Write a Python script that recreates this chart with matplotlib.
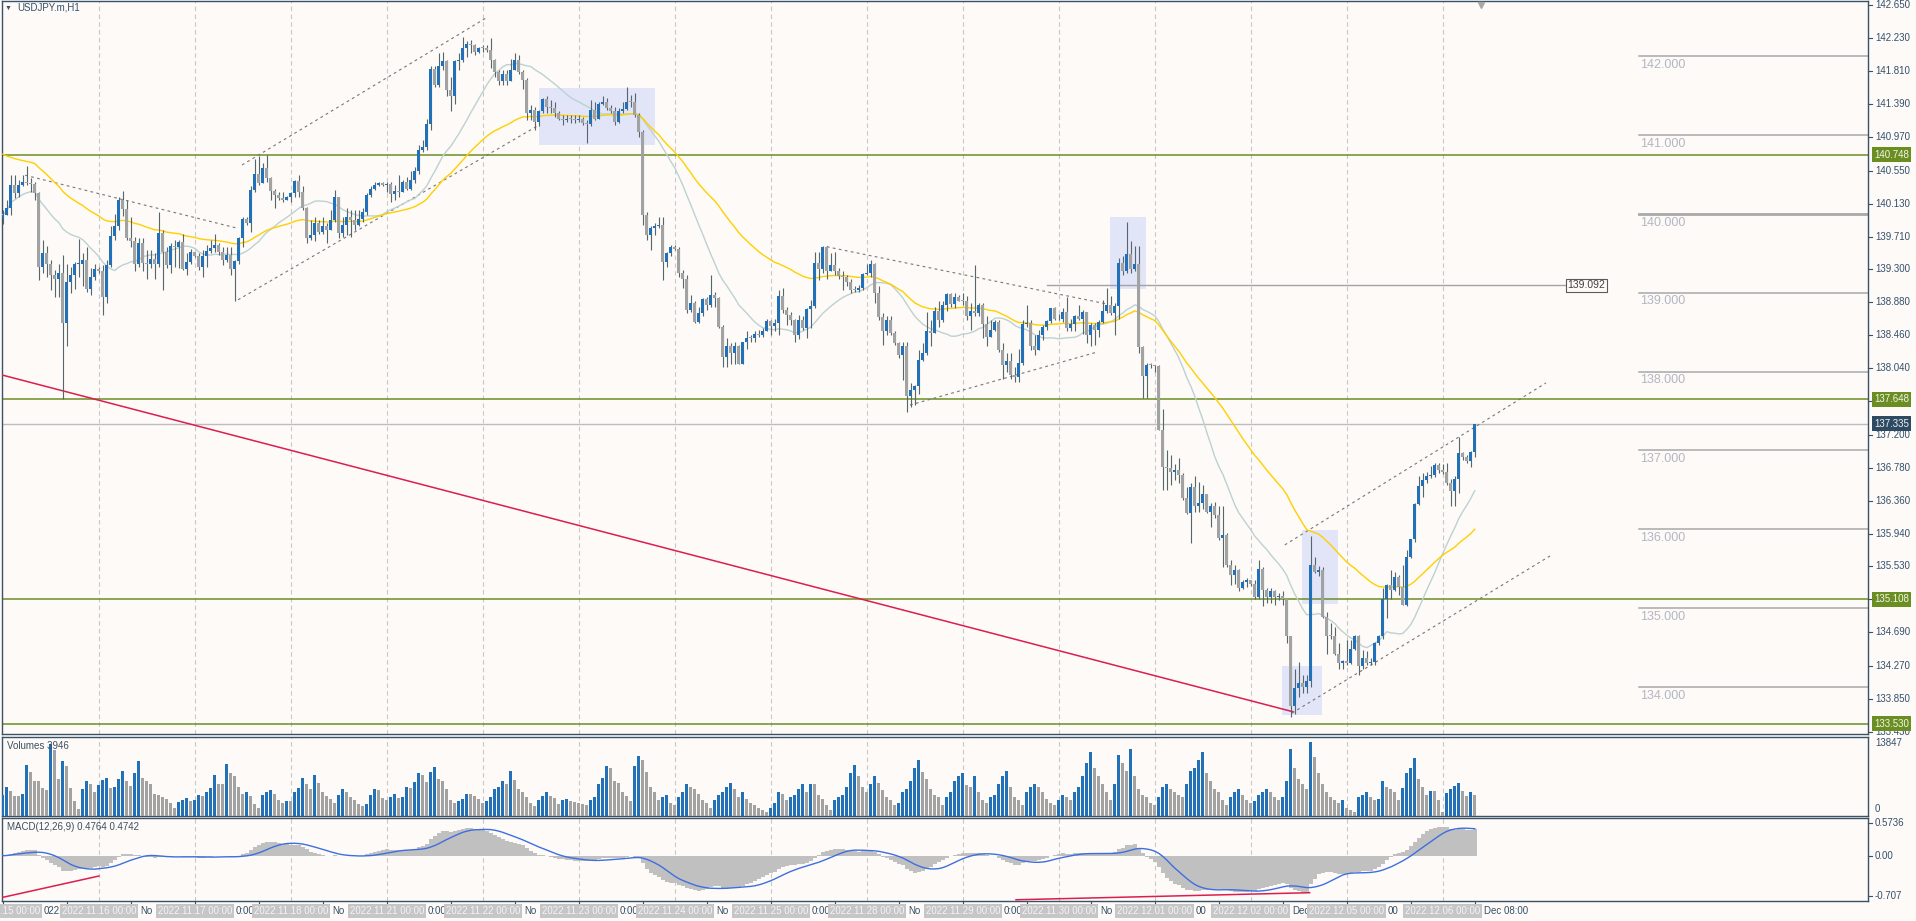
import numpy as np
import pandas as pd
import matplotlib
matplotlib.use("Agg")
import matplotlib.pyplot as plt
from matplotlib.patches import Rectangle
from matplotlib.transforms import blended_transform_factory

plt.rcParams['font.family'] = ['Liberation Sans', 'DejaVu Sans']

# USDJPY.m H1, 2022.11.15 00:00 .. 2022.12.06 08:00 (24 bars a day)
days = ["2022.11.15", "2022.11.16", "2022.11.17", "2022.11.18", "2022.11.21",
        "2022.11.22", "2022.11.23", "2022.11.24", "2022.11.25", "2022.11.28",
        "2022.11.29", "2022.11.30", "2022.12.01", "2022.12.02", "2022.12.05",
        "2022.12.06"]
# bits of the time scale that show between the grey date labels
scale_bits = ["022", "No", "0:00", "No", "0:00", "No", "0:00", "No", "0:00", "No",
              "0:00", "No", "00", "Dec", "00", "Dec 08:00"]

first_open = 139.95
close = [
    139.99, 140.08, 140.37, 140.27, 140.37, 140.40, 140.39, 140.38, 140.26, 139.33, 139.50, 139.36,
    139.22, 139.17, 139.25, 138.61, 139.13, 139.22, 139.36, 139.37, 139.41, 139.05, 139.20, 139.30,
    139.28, 138.95, 139.35, 139.72, 139.85, 140.18, 140.06, 139.70, 139.66, 139.36, 139.63, 139.38,
    139.36, 139.43, 139.36, 139.76, 139.52, 139.35, 139.59, 139.58, 139.64, 139.30, 139.39, 139.52,
    139.47, 139.32, 139.47, 139.53, 139.57, 139.60, 139.52, 139.41, 139.48, 139.30, 139.40, 139.69,
    139.93, 139.88, 140.30, 140.51, 140.39, 140.58, 140.45, 140.29, 140.24, 140.20, 140.18, 140.21,
    140.27, 140.42, 140.28, 140.07, 139.70, 139.73, 139.88, 139.77, 139.85, 139.79, 139.92, 140.21,
    139.76, 139.86, 139.96, 139.92, 139.86, 139.93, 140.03, 140.24, 140.32, 140.37, 140.39, 140.37,
    140.38, 140.25, 140.29, 140.28, 140.40, 140.32, 140.43, 140.54, 140.81, 140.85, 141.14, 141.84,
    141.64, 141.87, 141.94, 141.57, 141.49, 141.94, 141.95, 142.10, 142.16, 142.14, 142.06, 142.10,
    142.10, 142.08, 141.95, 141.80, 141.68, 141.77, 141.68, 141.83, 141.95, 141.80, 141.70, 141.28,
    141.32, 141.17, 141.31, 141.46, 141.35, 141.34, 141.28, 141.21, 141.19, 141.21, 141.20, 141.19,
    141.21, 141.15, 141.14, 141.32, 141.20, 141.40, 141.42, 141.34, 141.30, 141.16, 141.31, 141.33,
    141.42, 141.42, 141.25, 141.04, 139.99, 139.73, 139.82, 139.85, 139.86, 139.39, 139.50, 139.58,
    139.56, 139.25, 139.18, 138.78, 138.87, 138.63, 138.74, 138.92, 138.84, 138.97, 138.93, 138.57,
    138.19, 138.32, 138.23, 138.32, 138.10, 138.37, 138.43, 138.43, 138.48, 138.46, 138.51, 138.64,
    138.58, 138.61, 138.96, 138.78, 138.72, 138.65, 138.46, 138.65, 138.55, 138.79, 138.83, 139.38,
    139.30, 139.58, 139.28, 139.35, 139.28, 139.21, 139.20, 139.14, 139.03, 139.03, 139.06, 139.24,
    139.25, 139.37, 139.00, 138.69, 138.51, 138.65, 138.49, 138.36, 138.21, 138.32, 137.69, 137.77,
    137.81, 138.15, 138.24, 138.51, 138.49, 138.77, 138.65, 138.84, 138.98, 138.86, 138.95, 138.90,
    138.89, 138.70, 138.77, 138.74, 138.85, 138.60, 138.44, 138.53, 138.63, 138.27, 138.08, 138.13,
    137.96, 137.93, 138.11, 138.60, 138.61, 138.32, 138.27, 138.46, 138.57, 138.64, 138.80, 138.67,
    138.66, 138.76, 138.55, 138.60, 138.70, 138.67, 138.76, 138.46, 138.59, 138.53, 138.63, 138.77,
    138.84, 138.74, 138.83, 139.38, 139.28, 139.49, 139.30, 139.37, 138.31, 137.94, 138.08, 138.08,
    138.07, 137.26, 136.79, 136.77, 136.72, 136.75, 136.69, 136.40, 136.20, 136.54, 136.29, 136.33,
    136.44, 136.22, 136.30, 136.18, 135.89, 135.93, 135.55, 135.42, 135.48, 135.25, 135.33, 135.35,
    135.30, 135.14, 135.50, 135.23, 135.14, 135.21, 135.14, 135.15, 135.11, 134.64, 133.76, 133.98,
    134.05, 134.00, 134.07, 135.55, 135.46, 135.48, 134.89, 134.64, 134.64, 134.42, 134.30, 134.33,
    134.30, 134.48, 134.65, 134.26, 134.37, 134.30, 134.32, 134.55, 134.65, 135.12, 135.29, 135.23,
    135.39, 135.27, 135.04, 135.65, 135.88, 136.32, 136.55, 136.62, 136.67, 136.69, 136.82, 136.75,
    136.73, 136.58, 136.49, 136.64, 136.97, 136.91, 136.86, 136.98, 137.335,
]
high = [
    140.05, 140.18, 140.49, 140.49, 140.43, 140.49, 140.61, 140.45, 140.41, 140.28, 139.67, 139.59,
    139.41, 139.29, 139.37, 139.48, 139.37, 139.33, 139.39, 139.68, 139.50, 139.58, 139.31, 139.37,
    139.33, 139.35, 139.41, 139.84, 140.00, 140.22, 140.29, 140.18, 139.96, 139.71, 139.70, 139.69,
    139.54, 139.54, 139.50, 140.03, 139.79, 139.58, 139.63, 139.67, 139.67, 139.75, 139.50, 139.56,
    139.51, 139.50, 139.54, 139.61, 139.67, 139.75, 139.63, 139.58, 139.58, 139.58, 139.41, 139.71,
    139.96, 139.96, 140.35, 140.70, 140.73, 140.64, 140.75, 140.47, 140.32, 140.28, 140.28, 140.23,
    140.28, 140.43, 140.49, 140.35, 140.09, 139.92, 139.96, 139.92, 139.96, 139.88, 140.05, 140.30,
    140.21, 139.96, 140.07, 140.05, 140.05, 140.05, 140.07, 140.26, 140.35, 140.41, 140.41, 140.41,
    140.41, 140.41, 140.37, 140.49, 140.43, 140.47, 140.54, 140.60, 140.87, 140.94, 141.20, 141.87,
    141.87, 142.04, 142.05, 141.95, 141.74, 141.95, 142.04, 142.25, 142.19, 142.21, 142.16, 142.12,
    142.14, 142.14, 142.23, 141.97, 141.83, 141.83, 141.83, 141.97, 142.04, 142.02, 141.83, 141.72,
    141.38, 141.36, 141.32, 141.47, 141.49, 141.45, 141.42, 141.30, 141.25, 141.25, 141.25, 141.25,
    141.25, 141.23, 141.19, 141.45, 141.42, 141.42, 141.50, 141.47, 141.38, 141.36, 141.34, 141.42,
    141.61, 141.51, 141.53, 141.28, 141.06, 140.03, 139.84, 139.88, 139.96, 139.96, 139.52, 139.61,
    139.61, 139.58, 139.29, 139.23, 138.97, 138.89, 138.82, 138.93, 138.95, 139.23, 139.01, 138.95,
    138.59, 138.42, 138.36, 138.38, 138.34, 138.38, 138.51, 138.46, 138.51, 138.53, 138.55, 138.66,
    138.65, 138.67, 139.03, 139.06, 138.82, 138.76, 138.67, 138.72, 138.70, 138.80, 138.91, 139.52,
    139.52, 139.59, 139.59, 139.50, 139.52, 139.31, 139.27, 139.22, 139.18, 139.08, 139.10, 139.25,
    139.37, 139.42, 139.38, 139.08, 138.74, 138.70, 138.70, 138.51, 138.37, 138.38, 138.38, 137.85,
    137.83, 138.27, 138.36, 138.75, 138.65, 138.82, 138.89, 138.89, 139.00, 139.00, 138.99, 138.97,
    138.99, 138.96, 138.87, 139.35, 138.87, 138.87, 138.70, 138.65, 138.65, 138.65, 138.36, 138.23,
    138.23, 138.06, 138.29, 138.65, 138.84, 138.65, 138.46, 138.53, 138.59, 138.65, 138.80, 138.82,
    138.73, 138.80, 138.95, 138.67, 138.72, 138.84, 138.78, 138.63, 138.61, 138.61, 138.65, 138.91,
    139.06, 138.96, 138.87, 139.44, 139.46, 139.90, 139.65, 139.59, 139.59, 138.32, 138.11, 138.11,
    138.08, 138.08, 137.53, 137.00, 136.94, 136.83, 136.90, 136.71, 136.54, 136.58, 136.67, 136.60,
    136.56, 136.45, 136.33, 136.35, 136.29, 136.29, 135.95, 135.61, 135.55, 135.50, 135.35, 135.38,
    135.35, 135.35, 135.61, 135.52, 135.25, 135.25, 135.23, 135.19, 135.21, 135.12, 134.64, 134.23,
    134.32, 134.15, 134.15, 135.91, 135.65, 135.53, 135.52, 134.95, 134.81, 134.76, 134.55, 134.34,
    134.59, 134.60, 134.66, 134.66, 134.47, 134.45, 134.36, 134.57, 134.66, 135.25, 135.31, 135.48,
    135.46, 135.42, 135.55, 135.74, 135.88, 136.33, 136.67, 136.71, 136.73, 136.80, 136.84, 136.84,
    136.83, 136.84, 136.64, 136.67, 137.17, 136.98, 136.94, 136.99, 137.34,
]
low = [
    139.87, 139.99, 139.99, 140.20, 140.22, 140.35, 140.37, 140.28, 140.18, 139.16, 139.25, 139.20,
    139.03, 138.95, 138.95, 137.65, 138.33, 138.99, 139.05, 139.20, 139.08, 139.01, 138.97, 139.16,
    139.25, 138.72, 138.87, 139.33, 139.67, 139.80, 139.97, 139.67, 139.58, 139.27, 139.33, 139.27,
    139.18, 139.31, 139.18, 139.33, 139.03, 139.31, 139.25, 139.33, 139.31, 139.29, 139.22, 139.37,
    139.45, 139.29, 139.20, 139.33, 139.50, 139.52, 139.48, 139.35, 139.39, 139.22, 138.89, 139.37,
    139.58, 139.86, 139.77, 140.28, 140.37, 140.39, 140.41, 140.18, 140.07, 140.18, 140.15, 140.17,
    140.15, 140.22, 140.22, 140.05, 139.63, 139.67, 139.65, 139.75, 139.75, 139.63, 139.79, 139.90,
    139.69, 139.71, 139.73, 139.71, 139.79, 139.84, 139.90, 139.99, 140.22, 140.30, 140.35, 140.35,
    140.28, 140.15, 140.18, 140.22, 140.28, 140.30, 140.30, 140.39, 140.51, 140.79, 140.81, 141.06,
    141.61, 141.61, 141.83, 141.49, 141.30, 141.40, 141.83, 141.93, 141.99, 142.04, 142.02, 142.04,
    142.05, 142.06, 141.85, 141.74, 141.64, 141.64, 141.64, 141.68, 141.83, 141.78, 141.59, 141.19,
    141.19, 141.06, 141.11, 141.28, 141.28, 141.28, 141.23, 141.19, 141.13, 141.17, 141.15, 141.15,
    141.17, 141.13, 140.90, 141.12, 141.19, 141.20, 141.38, 141.32, 141.28, 141.13, 141.15, 141.28,
    141.32, 141.36, 141.23, 140.98, 139.86, 139.67, 139.54, 139.73, 139.82, 139.16, 139.33, 139.46,
    139.54, 139.20, 139.06, 138.74, 138.76, 138.61, 138.61, 138.70, 138.78, 138.82, 138.82, 138.55,
    138.06, 138.06, 138.10, 138.10, 138.10, 138.10, 138.29, 138.38, 138.38, 138.44, 138.44, 138.51,
    138.46, 138.51, 138.46, 138.74, 138.59, 138.59, 138.37, 138.41, 138.53, 138.42, 138.55, 138.80,
    139.16, 139.25, 139.18, 139.27, 139.22, 139.18, 139.03, 139.08, 138.99, 139.01, 139.01, 139.03,
    139.22, 139.20, 138.87, 138.65, 138.34, 138.46, 138.46, 138.34, 138.17, 137.89, 137.49, 137.55,
    137.58, 137.72, 138.13, 138.21, 138.32, 138.49, 138.57, 138.63, 138.77, 138.82, 138.80, 138.89,
    138.84, 138.65, 138.53, 138.70, 138.70, 138.42, 138.32, 138.44, 138.51, 138.25, 137.91, 138.00,
    137.91, 137.87, 137.87, 138.08, 138.57, 138.27, 138.21, 138.27, 138.40, 138.53, 138.61, 138.65,
    138.65, 138.63, 138.51, 138.52, 138.51, 138.65, 138.48, 138.36, 138.32, 138.34, 138.44, 138.61,
    138.74, 138.72, 138.46, 138.67, 139.22, 139.25, 139.25, 139.27, 138.23, 137.66, 137.66, 138.04,
    138.00, 137.26, 136.50, 136.50, 136.56, 136.62, 136.58, 136.37, 136.19, 135.83, 136.22, 136.22,
    136.26, 136.20, 136.03, 136.14, 135.86, 135.52, 135.52, 135.29, 135.31, 135.21, 135.24, 135.27,
    135.28, 135.12, 135.12, 135.02, 135.06, 135.06, 135.04, 135.10, 135.04, 134.55, 133.62, 133.66,
    133.87, 133.92, 133.92, 134.00, 135.44, 135.40, 134.87, 134.42, 134.61, 134.40, 134.23, 134.23,
    134.28, 134.29, 134.47, 134.15, 134.23, 134.28, 134.28, 134.28, 134.53, 134.61, 134.87, 135.12,
    135.21, 135.16, 135.04, 135.02, 135.63, 135.84, 136.31, 136.41, 136.59, 136.65, 136.66, 136.71,
    136.70, 136.56, 136.29, 136.29, 136.46, 136.88, 136.84, 136.79, 136.91,
]
volume = [
    4000, 5500, 4700, 3800, 3800, 4100, 9600, 8200, 6600, 6600, 5300, 4800,
    13500, 12400, 6900, 10200, 9400, 5200, 2800, 1300, 5000, 6500, 6000, 4500,
    5800, 6800, 7200, 5200, 5500, 7000, 8500, 6500, 5600, 8000, 10200, 7100,
    6500, 6000, 4200, 4000, 3500, 3200, 2500, 1500, 2600, 3000, 3300, 2800,
    3000, 4000, 3800, 4500, 5200, 7700, 6000, 6000, 9700, 8000, 7500, 5500,
    4200, 4500, 3700, 2200, 1500, 4000, 4500, 4800, 4200, 3000, 2500, 2800,
    2800, 4500, 5200, 7100, 6000, 5000, 7600, 6200, 4500, 3700, 3200, 2500,
    4000, 5000, 4500, 3500, 3000, 2200, 1800, 2200, 4000, 5000, 4800, 3400,
    3000, 3500, 4200, 3300, 3500, 5500, 5200, 6400, 8000, 7700, 6400, 8200,
    9200, 7000, 6500, 5000, 3000, 2500, 2800, 3100, 4200, 4200, 3800, 3200,
    2500, 2800, 3500, 5000, 5500, 6500, 6000, 8500, 6800, 5000, 4500, 3500,
    2400, 1800, 3000, 3800, 4500, 3700, 3300, 2200, 3000, 3200, 2800, 2600,
    2500, 2200, 2000, 3000, 3500, 6000, 7100, 9400, 8900, 6500, 6200, 4500,
    3800, 2800, 9300, 11300, 10500, 8200, 5500, 4500, 3000, 3500, 4000, 2500,
    2000, 3500, 4500, 6000, 5500, 5000, 4200, 3000, 2500, 1500, 3000, 4000,
    4500, 5500, 6200, 5000, 3500, 4500, 3200, 2500, 2000, 1500, 1200, 700,
    1500, 2500, 4500, 4200, 3000, 3500, 4000, 5000, 6000, 4500, 6000, 6000,
    4000, 3200, 2000, 1200, 3000, 3500, 4000, 5500, 8000, 9500, 7500, 5500,
    4500, 6000, 7500, 6200, 4800, 3500, 3000, 2000, 2500, 4500, 5000, 6500,
    9000, 10500, 8200, 7000, 5000, 4000, 3500, 2000, 3500, 4500, 6500, 7500,
    8000, 5800, 5500, 7500, 4500, 3000, 2500, 3500, 4000, 6000, 7500, 8500,
    5500, 3500, 3000, 2000, 4500, 5500, 6000, 5500, 4500, 3200, 2500, 2000,
    3000, 4000, 3500, 3000, 4500, 5500, 7500, 10000, 12000, 9000, 7500, 6000,
    4500, 3000, 6000, 11500, 10000, 8500, 12500, 7500, 5000, 4000, 3500, 2500,
    2000, 3500, 5500, 6000, 5000, 4500, 4000, 3500, 6000, 8500, 9000, 10500,
    12000, 8000, 6500, 5000, 4500, 3000, 2000, 3500, 4500, 5000, 4000, 3000,
    2500, 2800, 4000, 4500, 5000, 4500, 3500, 3000, 3500, 6500, 12500, 9000,
    7000, 6000, 5000, 13847, 11000, 8000, 6000, 4500, 3500, 3000, 2500, 3000,
    1500, 1200, 800, 3500, 4000, 4500, 3500, 3000, 3200, 6500, 5500, 5000,
    4500, 3000, 5230, 8000, 9050, 10890, 6950, 5350, 3880, 4615, 4615, 3080,
    800, 4310, 5050, 5540, 6150, 4615, 3690, 4490, 3946,
]
ema50_start = 140.79  # yellow average at the left edge

# levels and drawings on the chart
green_levels = [140.748, 137.648, 135.108, 133.530]
bid_price = 137.335
round_levels = [142.0, 141.0, 140.0, 139.0, 138.0, 137.0, 136.0, 135.0, 134.0]
price_ticks = [142.650, 142.230, 141.810, 141.390, 140.970, 140.550, 140.130, 139.710,
               139.300, 138.880, 138.460, 138.040, 137.620, 137.200, 136.780, 136.360,
               135.940, 135.530, 135.110, 134.690, 134.270, 133.850, 133.430]
hline_level = 139.092
dotted_lines = [((5.6, 140.49), (58.5, 139.82)),
                ((59.8, 140.62), (121.3, 142.50)),
                ((58.8, 138.91), (133.8, 141.12)),
                ((206.0, 139.583), (276.0, 138.857)),
                ((226.8, 137.575), (273.8, 138.25)),
                ((320.5, 135.80), (385.8, 137.855)),
                ((322.3, 133.667), (386.8, 135.66))]
red_line = ((-0.2, 137.956), (322.5, 133.684))
macd_red_lines = [((-0.2, -0.74), (24.0, -0.36)), ((253.3, -0.78), (326.7, -0.655))]
boxes = [(134.0, 140.874, 163.0, 141.597), (276.8, 139.047, 285.8, 139.964),
         (324.8, 135.05, 333.7, 135.99), (319.8, 133.64, 329.8, 134.26)]

# ---------------------------------------------------------------
W, H = 1916, 921
bg = '#fdfaf8'
frame = '#3b5266'
txt = '#34506a'
blue = '#2271b8'
grey = '#a2a2a2'
wick = '#56676b'

def fx(x):
    return x / W

def fy(y):
    return 1 - y / H

def rect(x0, y0, x1, y1):
    return [fx(x0), fy(y1), (x1 - x0) / W, (y1 - y0) / H]

def px_of(i):
    return 2 + (i + 0.2) * 4

c = np.array(close)
o = np.r_[first_open, c[:-1]]
h = np.maximum(np.array(high), np.maximum(o, c))
l = np.minimum(np.array(low), np.minimum(o, c))
v = np.array(volume, dtype=float)
n = len(c)
x = np.arange(n)

s = pd.Series(c)
ma20 = s.rolling(20, min_periods=1).mean().values
ma50 = np.empty(n)
k50 = 2 / 51
prev = ema50_start
for i in range(n):
    prev = prev + k50 * (c[i] - prev)
    ma50[i] = prev
macd = (s.ewm(span=12, adjust=False).mean() - s.ewm(span=26, adjust=False).mean()).values
signal = pd.Series(macd).rolling(9, min_periods=1).mean().values

fig = plt.figure(figsize=(W / 100, H / 100), dpi=100, facecolor=bg)
ax = fig.add_axes(rect(2, 1, 1868, 734))
axv = fig.add_axes(rect(2, 737, 1868, 816), sharex=ax)
axm = fig.add_axes(rect(2, 818, 1868, 901), sharex=ax)

xmax = -0.2 + 1866 / 4
for a in (ax, axv, axm):
    a.set_facecolor(bg)
    a.set_xlim(-0.2, xmax)
    for sp in a.spines.values():
        sp.set_color(frame)
        sp.set_linewidth(1.0)
    a.tick_params(left=False, right=False, labelleft=False, labelright=False,
                  bottom=False, labelbottom=False)
    for d in range(1, len(days)):
        a.axvline(24 * d, color='#c8c8c8', lw=0.8, ls=(0, (4, 3)), zorder=0.5)

ax.set_ylim(142.65 - (734 - 5) / 78.82, 142.65 + 4 / 78.82)

# rectangles and levels
for (x0, p0, x1, p1) in boxes:
    ax.add_patch(Rectangle((x0, p0), x1 - x0, p1 - p0, fc='#e2e4f8', ec='none', zorder=1))
for lv in green_levels:
    ax.axhline(lv, color='#6b8e23', lw=1.1, zorder=2)
ax.axhline(bid_price, color='#bdbdbd', lw=1.0, zorder=2)
for lv in round_levels:
    ax.plot([409.0, xmax], [lv, lv], color='#a9a9a9', lw=2.0 if lv == 140.0 else 1.1, zorder=2)
    ax.text(409.3, lv - 0.035, f"{lv:.3f}", fontsize=9, color='#b3b6c2', va='top', ha='left', zorder=2)
ax.plot([261.0, 390.7], [hline_level, hline_level], color='#a3a3a3', lw=1.0, zorder=2)
ax.text(391.2, hline_level, f"{hline_level:.3f}", fontsize=7.5, color='#404040', va='center', ha='left',
        zorder=6, bbox=dict(boxstyle='square,pad=0.15', fc=bg, ec='#5a5a5a', lw=0.8))

for (p, q) in dotted_lines:
    ax.plot([p[0], q[0]], [p[1], q[1]], color='#777777', lw=0.8, ls=(0, (2.5, 3)), zorder=5)
ax.plot([red_line[0][0], red_line[1][0]], [red_line[0][1], red_line[1][1]],
        color='#dc1e4c', lw=1.1, zorder=5)

# moving averages
ax.plot(x, ma20, color='#bcd2d2', lw=1.0, zorder=6)
ax.plot(x, ma50, color='#ffd000', lw=1.0, zorder=6)

# candles
up = c > o
ax.vlines(x, l, h, color=wick, lw=0.8, zorder=7)
body = np.maximum(np.abs(c - o), 0.012)
ax.bar(x, body, bottom=np.minimum(o, c), width=0.78, color=np.where(up, blue, grey),
       lw=0, zorder=8)

ax.plot([369.5], [142.65], marker='v', ms=5, color='#a8a8a8', zorder=9, clip_on=False)

# price scale
tp = blended_transform_factory(fig.transFigure, ax.transData)
for t in price_ticks:
    ax.plot([fx(1868), fx(1872)], [t, t], transform=tp, color=frame, lw=0.8, clip_on=False)
    if abs(t - 137.620) < 1e-6 or abs(t - 135.110) < 1e-6:
        continue  # hidden behind the level labels
    ax.text(fx(1875), t, f"{t:.3f}", transform=tp, fontsize=7, color=txt,
            va='center', ha='left', clip_on=False, zorder=3)
for lv in green_levels:
    ax.text(fx(1874), lv, f"{lv:.3f}", transform=tp, fontsize=7, color='#f4f4ec', va='center',
            ha='left', clip_on=False, zorder=10,
            bbox=dict(boxstyle='square,pad=0.25', fc='#6b8e23', ec='none'))
ax.text(fx(1874), bid_price, f"{bid_price:.3f}", transform=tp, fontsize=7, color='#f0f0f0',
        va='center', ha='left', clip_on=False, zorder=10,
        bbox=dict(boxstyle='square,pad=0.25', fc='#2e4a62', ec='none'))

# volumes
vol_up = np.r_[True, v[1:] > v[:-1]]
axv.bar(x, v, width=0.8, color=np.where(vol_up, blue, grey), lw=0, zorder=3)
axv.set_ylim(0, 13847 * 79 / 74)

# MACD
axm.bar(x, macd, width=1.0, color='#c0c0c0', lw=0, zorder=2)
axm.plot(x, signal, color='#3d6fe0', lw=1.0, zorder=3)
for (p, q) in macd_red_lines:
    axm.plot([p[0], q[0]], [p[1], q[1]], color='#dc1e4c', lw=1.1, zorder=4)
axm.set_ylim(-(901 - 855.7) / 56.5, (855.7 - 818) / 56.5)

tm = blended_transform_factory(fig.transFigure, axm.transData)
for val, lab in [(0.5736, "0.5736"), (0.0, "0.00"), (-0.707, "-0.707")]:
    axm.plot([fx(1868), fx(1872)], [val, val], transform=tm, color=frame, lw=0.8, clip_on=False)
    axm.text(fx(1875), val, lab, transform=tm, fontsize=7, color=txt, va='center', ha='left',
             clip_on=False)
fig.text(fx(1875), fy(743), "13847", fontsize=7, color=txt, va='center', ha='left')
fig.text(fx(1875), fy(809), "0", fontsize=7, color=txt, va='center', ha='left')

# titles
fig.text(fx(5), fy(8), "\u25bc", fontsize=5, color='#3a5068', va='center', ha='left')
fig.text(fx(17), fy(8), "USDJPY.m,H1", fontsize=7, color=txt, va='center', ha='left')
fig.text(fx(7), fy(746), "Volumes 3946", fontsize=7, color='#3d4f60', va='center', ha='left')
fig.text(fx(7), fy(827), "MACD(12,26,9) 0.4764 0.4742", fontsize=7, color='#3d4f60',
         va='center', ha='left')

# time scale: ticks every 16 bars, grey day labels on top
for i in range(0, n, 16):
    xp = px_of(i)
    fig.add_artist(plt.Line2D([fx(xp), fx(xp)], [fy(901), fy(905)], color=frame, lw=0.8))

half_box = 39
fig.text(fx(0), fy(911), ".15 00:00", fontsize=7, color='#f4f4f4', va='center', ha='left',
         zorder=6, bbox=dict(boxstyle='square,pad=0.2', fc='#c6c6c6', ec='none'))
for k, d in enumerate(days):
    xp = px_of(24 * k)
    if k > 0:
        fig.text(fx(xp), fy(911), f"{d} 00:00", fontsize=7, color='#f4f4f4', va='center',
                 ha='center', zorder=6,
                 bbox=dict(boxstyle='square,pad=0.2', fc='#c6c6c6', ec='none'))
    fig.text(fx(xp + half_box + 2), fy(911), scale_bits[k], fontsize=7, color=txt,
             va='center', ha='left', zorder=5)

fig.savefig("out.png", dpi=100, facecolor=bg)
